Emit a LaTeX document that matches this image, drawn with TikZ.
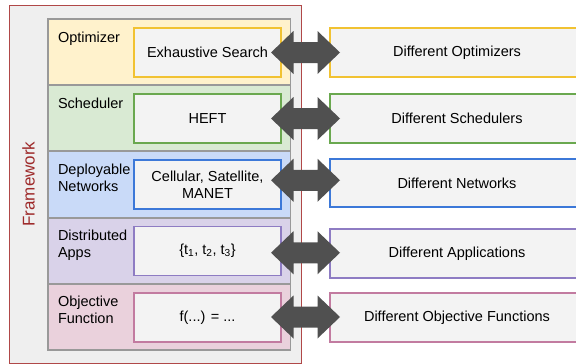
\documentclass[tikz,border=0pt]{standalone}
\usepackage{fontspec}
\setmainfont{Liberation Sans}
\usetikzlibrary{calc}
\definecolor{framefill}{HTML}{EFEFEF}
\definecolor{frameline}{HTML}{B04848}
\definecolor{frametext}{HTML}{9E2A2A}
\definecolor{rowline}{HTML}{999999}
\definecolor{boxfill}{HTML}{F3F3F3}
\definecolor{arrowfill}{HTML}{505050}
\definecolor{yfill}{HTML}{FFF2CC}\definecolor{yline}{HTML}{F1C232}
\definecolor{gfill}{HTML}{D9EAD3}\definecolor{gline}{HTML}{6AA84F}
\definecolor{bfill}{HTML}{C9DAF8}\definecolor{bline}{HTML}{3C78D8}
\definecolor{pfill}{HTML}{D9D2E9}\definecolor{pline}{HTML}{8E7CC3}
\definecolor{rfill}{HTML}{EAD1DC}\definecolor{rline}{HTML}{C27BA0}
\newcommand\dblarrow[3]{\fill[arrowfill] ($(#1.east)!0.5!(#2.west)+(0,#3)$) ++(-34.5,0) -- ++(22.5,-21.5) -- ++(0,11) -- ++(24,0) -- ++(0,-11) -- ++(22.5,21.5) -- ++(-22.5,21.5) -- ++(0,-11) -- ++(-24,0) -- ++(0,11) -- cycle;}
\begin{document}
\begin{tikzpicture}[x=1pt,y=-1pt,
  font=\fontsize{14.5}{17}\selectfont,
  every node/.style={inner sep=0pt, outer sep=0pt},
  rowbox/.style={rectangle, draw=rowline, line width=1.2pt, minimum width=242.5pt, minimum height=66pt},
  innerbox/.style={rectangle, fill=boxfill, line width=1.8pt, minimum width=147pt, minimum height=49pt, align=center},
  rightbox/.style={rectangle, fill=boxfill, line width=1.8pt, minimum width=254pt, minimum height=48.5pt, align=center},
  rowlabel/.style={anchor=north west, align=left}
]
\useasboundingbox (0,0) rectangle (576,364);
\clip (0,0) rectangle (576,364);
% framework
\node[rectangle, fill=framefill, draw=frameline, line width=1pt, minimum width=292.5pt, minimum height=358pt] (frame) at (155.25,184.5) {};
\node[rotate=90, text=frametext, font=\fontsize{17}{20}\selectfont] (fwlabel) at (28.5,184) {Framework};
% rows
\node[rowbox, fill=yfill] (row1) at (169.25,52) {};
\node[rowbox, fill=gfill] (row2) at (169.25,118) {};
\node[rowbox, fill=bfill] (row3) at (169.25,184.5) {};
\node[rowbox, fill=pfill] (row4) at (169.25,251) {};
\node[rowbox, fill=rfill] (row5) at (169.25,317) {};
% row labels
\node[rowlabel] (lab1) at (58,31.5) {Optimizer};
\node[rowlabel] (lab2) at (58,97.5) {Scheduler};
\node[rowlabel] (lab3) at (58,163.5) {Deployable\\Networks};
\node[rowlabel] (lab4) at (58,229.5) {Distributed\\Apps};
\node[rowlabel] (lab5) at (58,296) {Objective\\Function};
% inner boxes
\node[innerbox, draw=yline] (in1) at (207.5,52.5) {Exhaustive Search};
\node[innerbox, draw=gline] (in2) at (207.5,118.5) {HEFT};
\node[innerbox, draw=bline] (in3) at (207.5,184.5) {Cellular, Satellite,\\MANET};
\node[innerbox, draw=pline] (in4) at (207.5,251) {\{t\textsubscript{1}, t\textsubscript{2}, t\textsubscript{3}\}};
\node[innerbox, draw=rline] (in5) at (207.5,317.5) {f(...) = ...};
% right boxes
\node[rightbox, draw=yline] (out1) at (457,52.5) {Different Optimizers};
\node[rightbox, draw=gline] (out2) at (457,118.5) {Different Schedulers};
\node[rightbox, draw=bline] (out3) at (457,183) {Different Networks};
\node[rightbox, draw=pline] (out4) at (457,253.5) {Different Applications};
\node[rightbox, draw=rline] (out5) at (457,317.5) {Different Objective Functions};
% arrows
\dblarrow{in1}{out1}{0}
\dblarrow{in2}{out2}{0}
\dblarrow{in3}{out3}{-3.5}
\dblarrow{in4}{out4}{0.5}
\dblarrow{in5}{out5}{-0.5}
\end{tikzpicture}
\end{document}
